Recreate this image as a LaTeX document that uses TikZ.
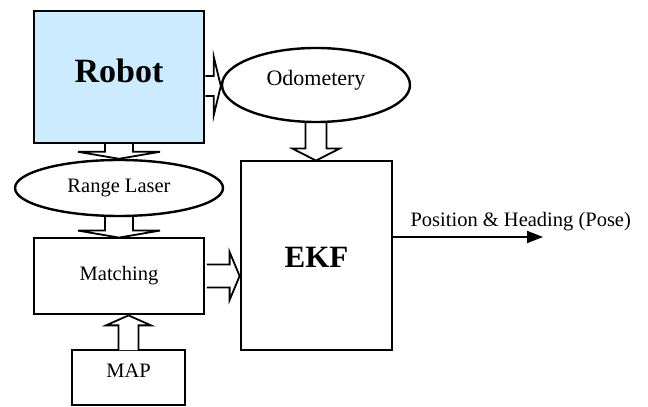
\documentclass[tikz,border=0pt]{standalone}
\usepackage{fontspec}
\setmainfont{Liberation Serif}
\usetikzlibrary{calc,shapes.geometric,arrows.meta,backgrounds}
\definecolor{robotblue}{RGB}{204,235,255}
\tikzset{
  boxs/.style={draw, line width=2.8pt, rectangle, inner sep=0pt},
  ells/.style={draw, line width=2.4pt, ellipse, inner sep=0pt, fill=white},
  txt/.style={font=\fontsize{20.5pt}{22pt}\selectfont},
  bigtxt/.style={font=\fontsize{31pt}{33pt}\selectfont\bfseries},
  hollow/.style={draw, line width=1.8pt, fill=white, line join=miter},
}
% vertical hollow arrow: #1 start, #2 tip, #3 shaft half width, #4 head half width, #5 head length
\newcommand{\hollowV}[5]{%
  \draw[hollow] let \p1=#1, \p2=#2, \n1={sign(\y2-\y1)} in
    (\x1-#3,\y1) -- (\x1-#3,\y2-\n1*#5) -- (\x1-#4,\y2-\n1*#5) -- (\x1,\y2)
    -- (\x1+#4,\y2-\n1*#5) -- (\x1+#3,\y2-\n1*#5) -- (\x1+#3,\y1);}
% horizontal hollow arrow
\newcommand{\hollowH}[5]{%
  \draw[hollow] let \p1=#1, \p2=#2, \n1={sign(\x2-\x1)} in
    (\x1,\y1-#3) -- (\x2-\n1*#5,\y1-#3) -- (\x2-\n1*#5,\y1-#4) -- (\x2,\y1)
    -- (\x2-\n1*#5,\y1+#4) -- (\x2-\n1*#5,\y1+#3) -- (\x1,\y1+#3);}
\begin{document}
\begin{tikzpicture}[x=1pt,y=1pt]
\useasboundingbox (0,0) rectangle (648,407);
\clip (0,0) rectangle (648,407);
% nodes
\node[boxs, fill=robotblue, minimum width=170pt, minimum height=132pt,
      label={[bigtxt, font=\fontsize{34pt}{36pt}\selectfont\bfseries, yshift=6pt]center:Robot}] (robot) at (119,330) {};
\node[ells, minimum width=188pt, minimum height=74pt,
      label={[txt, font=\fontsize{22pt}{24pt}\selectfont, yshift=5pt]center:Odometery}] (odo) at (316,322) {};
\node[ells, minimum width=208pt, minimum height=56pt, txt] (range) at (119,219) {Range Laser};
\node[boxs, fill=white, minimum width=170pt, minimum height=76pt, txt] (match) at (119,131) {Matching};
\node[boxs, fill=white, minimum width=151pt, minimum height=189pt,
      label={[bigtxt, yshift=-2pt]center:EKF}] (ekf) at (316.5,151.5) {};
\node[boxs, fill=white, minimum width=113pt, minimum height=55pt,
      label={[txt, yshift=7pt]center:MAP}] (map) at (128.5,29.5) {};
\coordinate (poseend) at (543,170);
\node[txt, anchor=base west] (posetxt) at (407,180) {Position \& Heading (Pose)};
% connectors
\begin{scope}[on background layer]
\hollowH{(robot.east |- 0,321)}{(odo.west |- 0,321)}{10pt}{29pt}{7pt}
\hollowV{($(robot.south)+(0,2)$)}{(range.north)}{14pt}{41pt}{7pt}
\hollowV{(range.south)}{($(match.north)+(0,-1)$)}{14pt}{41pt}{7pt}
\hollowV{(odo.south)}{($(ekf.north)+(0,-1)$)}{10.5pt}{23.5pt}{12pt}
\end{scope}
\hollowH{($(match.east)+(1.5,0)$)}{(ekf.west |- match.east)}{11.5pt}{24pt}{10pt}
\hollowV{($(map.north)+(0,-1.5)$)}{($(match.south)+(0,0)$)}{10pt}{22.5pt}{10pt}
\draw[line width=1.8pt, -{Triangle[length=16pt,width=12pt]}] (ekf.east |- poseend) -- (poseend);
\end{tikzpicture}
\end{document}
